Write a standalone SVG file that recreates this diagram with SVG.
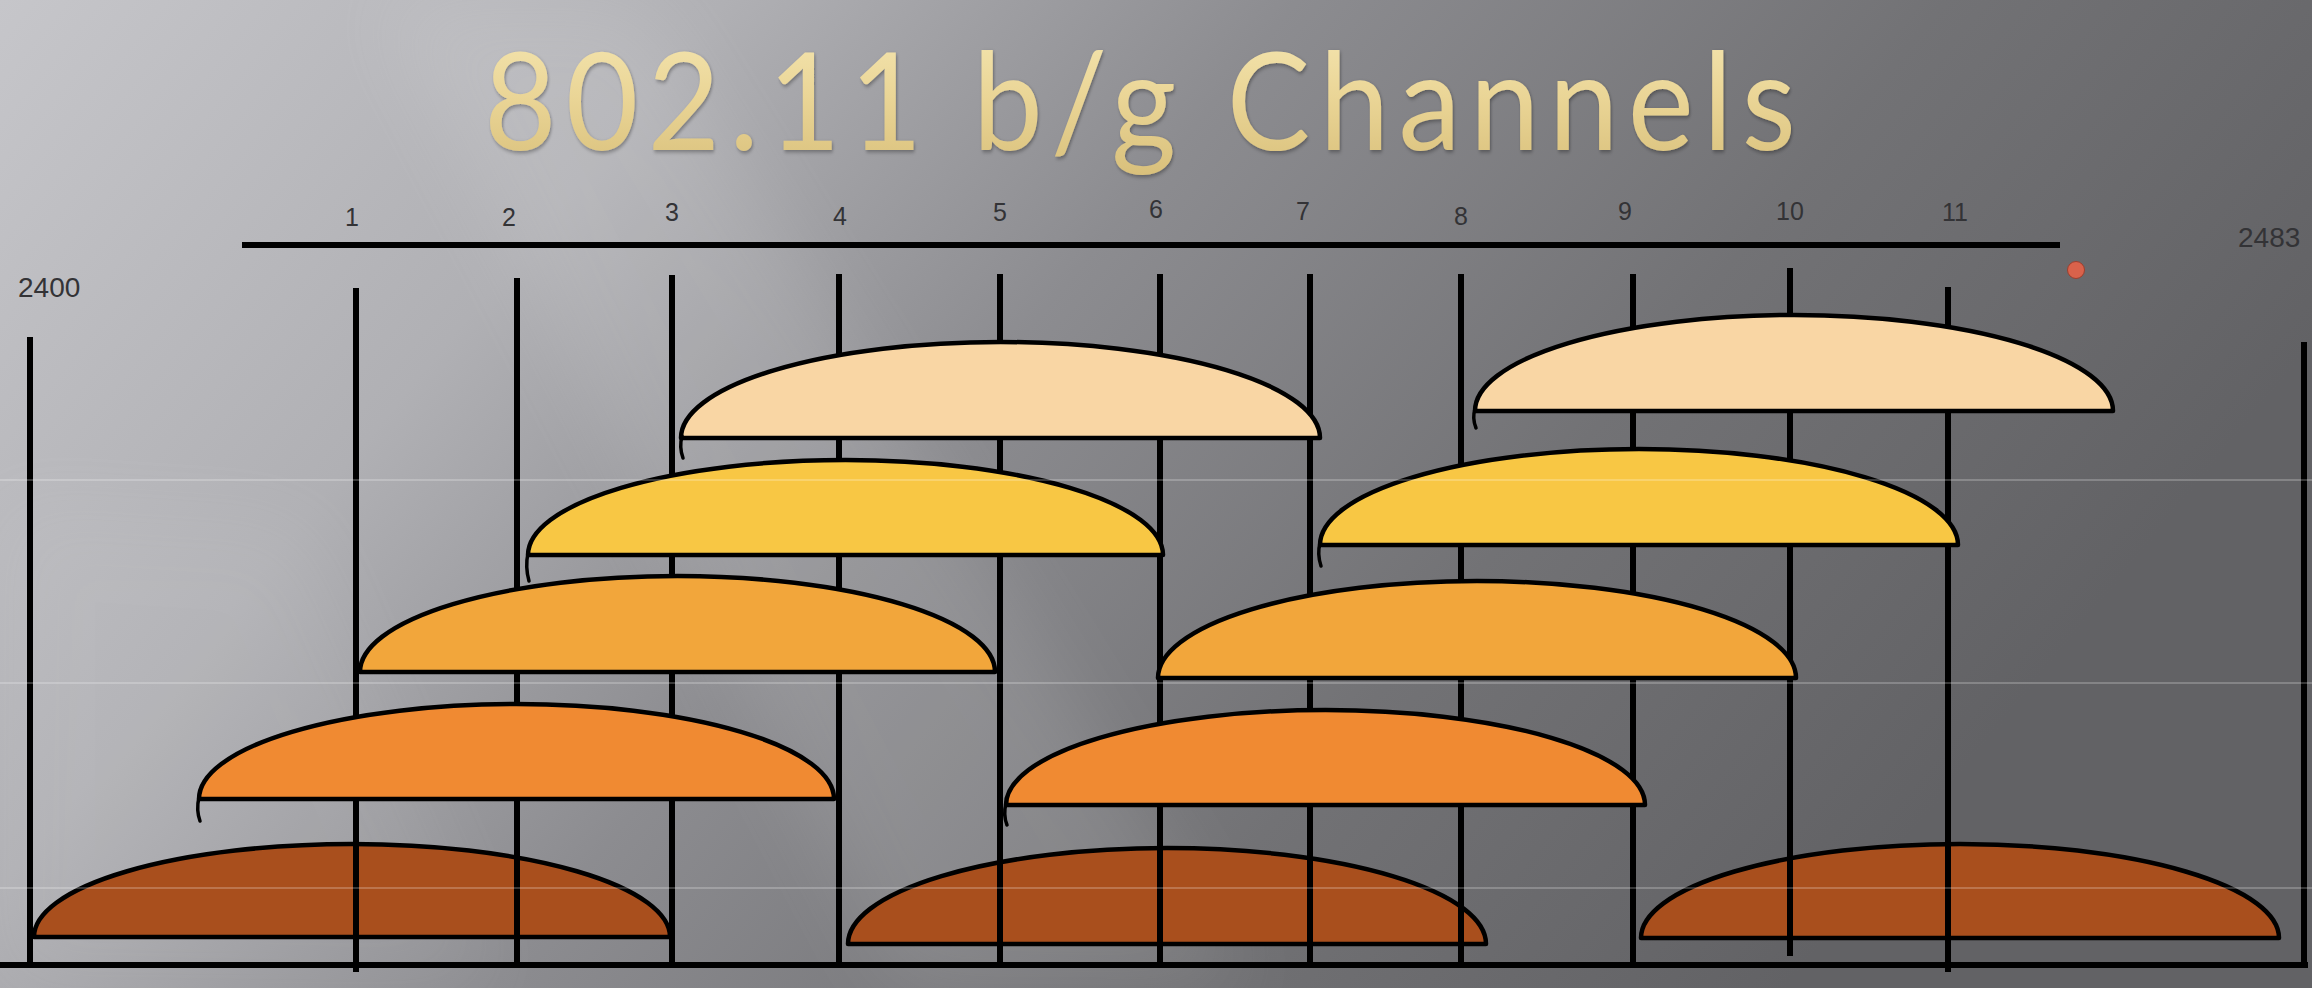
<svg xmlns="http://www.w3.org/2000/svg" width="2312" height="988" viewBox="0 0 2312 988">
  <defs>
    <linearGradient id="bg" x1="0" y1="0" x2="1" y2="0.35">
      <stop offset="0" stop-color="#c6c6ca"/>
      <stop offset="0.28" stop-color="#b0b0b4"/>
      <stop offset="0.5" stop-color="#8c8c90"/>
      <stop offset="0.75" stop-color="#727275"/>
      <stop offset="1" stop-color="#626265"/>
    </linearGradient>
    <linearGradient id="title" x1="0" y1="0" x2="0" y2="1">
      <stop offset="0" stop-color="#f6e8b4"/>
      <stop offset="0.5" stop-color="#ead596"/>
      <stop offset="1" stop-color="#d8bf7a"/>
    </linearGradient>
    <filter id="blur" x="-20%" y="-20%" width="140%" height="140%">
      <feGaussianBlur stdDeviation="40"/>
    </filter>
    <filter id="tshadow" x="-5%" y="-20%" width="110%" height="140%">
      <feGaussianBlur in="SourceAlpha" stdDeviation="2"/>
      <feOffset dx="1" dy="2"/>
      <feComponentTransfer><feFuncA type="linear" slope="0.35"/></feComponentTransfer>
      <feMerge><feMergeNode/><feMergeNode in="SourceGraphic"/></feMerge>
    </filter>
  </defs>
  <style>
    .vl { stroke: #000; stroke-width: 6; fill: none; }
    .dome { stroke: #000; stroke-width: 4.5; stroke-linejoin: round; }
    .hook { stroke: #000; stroke-width: 3.5; fill: none; stroke-linecap: round; }
    .r1 { fill: #a94f1d; }
    .r2 { fill: #f08a32; }
    .r3 { fill: #f2a63b; }
    .r4 { fill: #f8c744; }
    .r5 { fill: #f9d6a4; }
    .lbl { font-family: "Liberation Sans", Arial, sans-serif; font-size: 25px; fill: #333336; text-anchor: middle; }
    .edge { font-family: "Liberation Sans", Arial, sans-serif; font-size: 28px; fill: #333336; }
    .faint { stroke: #ffffff; stroke-opacity: 0.22; stroke-width: 2; }
  </style>

  <!-- background -->
  <rect x="0" y="0" width="2312" height="988" fill="url(#bg)"/>
  <polygon points="380,0 640,0 1250,988 900,988" fill="#ffffff" opacity="0.10" filter="url(#blur)"/>
  <polygon points="0,500 300,520 500,988 0,988" fill="#ffffff" opacity="0.06" filter="url(#blur)"/>

  <!-- title -->
  <g id="title-text" transform="translate(484,150) scale(0.92,1)">
    <text x="0" y="0" font-family="Lato, 'Open Sans', sans-serif" font-size="136" fill="url(#title)" textLength="1426" lengthAdjust="spacing" filter="url(#tshadow)">802.11 b/g Channels</text>
  </g>

  <!-- row 1 domes (beneath lines) -->
  <g id="ch1-dome"><path class="dome r1" d="M34,937 A318,93 0 0 1 670,937 Z"/></g>
  <g id="ch6-dome"><path class="dome r1" d="M848,944 A319,96 0 0 1 1486,944 Z"/></g>
  <g id="ch11-dome"><path class="dome r1" d="M1641,938 A319,94 0 0 1 2279,938 Z"/></g>

  <!-- connectors / axis lines -->
  <g id="axes">
    <line class="vl" x1="0" y1="965" x2="2308" y2="965" stroke-width="7"/>
    <line class="vl" x1="242" y1="245" x2="2060" y2="245" stroke-width="9"/>
    <line class="vl" x1="30" y1="337" x2="30" y2="962"/>
    <line class="vl" x1="356" y1="288" x2="356" y2="972"/>
    <line class="vl" x1="517" y1="278" x2="517" y2="964"/>
    <line class="vl" x1="672" y1="275" x2="672" y2="964"/>
    <line class="vl" x1="839" y1="274" x2="839" y2="964"/>
    <line class="vl" x1="1000" y1="274" x2="1000" y2="964"/>
    <line class="vl" x1="1160" y1="274" x2="1160" y2="964"/>
    <line class="vl" x1="1310" y1="274" x2="1310" y2="964"/>
    <line class="vl" x1="1461" y1="274" x2="1461" y2="964"/>
    <line class="vl" x1="1633" y1="274" x2="1633" y2="964"/>
    <line class="vl" x1="1790" y1="268" x2="1790" y2="956"/>
    <line class="vl" x1="1948" y1="287" x2="1948" y2="972"/>
    <line class="vl" x1="2304" y1="342" x2="2304" y2="968"/>
  </g>

  <!-- row 2 -->
  <g id="ch2-dome"><path class="dome r2" d="M199,799 A317.5,95 0 0 1 834,799 Z"/><path class="hook" d="M199,797 Q196,810 200,821"/></g>
  <g id="ch7-dome"><path class="dome r2" d="M1006,805 A319.5,95 0 0 1 1645,805 Z"/><path class="hook" d="M1006,803 Q1003,815 1007,825"/></g>
  <!-- row 3 -->
  <g id="ch3-dome"><path class="dome r3" d="M360,672 A317.5,96 0 0 1 995,672 Z"/></g>
  <g id="ch8-dome"><path class="dome r3" d="M1158,678 A319,97 0 0 1 1796,678 Z"/></g>
  <!-- row 4 -->
  <g id="ch4-dome"><path class="dome r4" d="M528,555 A317.5,95 0 0 1 1163,555 Z"/><path class="hook" d="M528,553 Q525,567 529,581"/></g>
  <g id="ch9-dome"><path class="dome r4" d="M1320,545 A319,96 0 0 1 1958,545 Z"/><path class="hook" d="M1320,543 Q1317,554 1321,566"/></g>
  <!-- row 5 -->
  <g id="ch5-dome"><path class="dome r5" d="M681,438 A319.5,96 0 0 1 1320,438 Z"/><path class="hook" d="M682,436 Q679,447 683,458"/></g>
  <g id="ch10-dome"><path class="dome r5" d="M1475,411 A319,96 0 0 1 2113,411 Z"/><path class="hook" d="M1475,409 Q1472,418 1476,428"/></g>

  <!-- faint background streak lines -->
  <line class="faint" x1="0" y1="480" x2="2312" y2="480"/>
  <line class="faint" x1="0" y1="683" x2="2312" y2="683"/>
  <line class="faint" x1="0" y1="888" x2="2312" y2="888" stroke-opacity="0.12"/>

  <!-- labels -->
  <g id="labels">
    <text class="lbl" x="352" y="226">1</text>
    <text class="lbl" x="509" y="226">2</text>
    <text class="lbl" x="672" y="221">3</text>
    <text class="lbl" x="840" y="225">4</text>
    <text class="lbl" x="1000" y="221">5</text>
    <text class="lbl" x="1156" y="218">6</text>
    <text class="lbl" x="1303" y="220">7</text>
    <text class="lbl" x="1461" y="225">8</text>
    <text class="lbl" x="1625" y="220">9</text>
    <text class="lbl" x="1790" y="220">10</text>
    <text class="lbl" x="1955" y="221">11</text>
    <text class="edge" x="18" y="297">2400</text>
    <text class="edge" x="2238" y="247">2483</text>
  </g>

  <g id="marker-dot"><circle cx="2076" cy="270" r="8.5" fill="#d9624b" stroke="#9c3f2e" stroke-width="1"/></g>
</svg>
